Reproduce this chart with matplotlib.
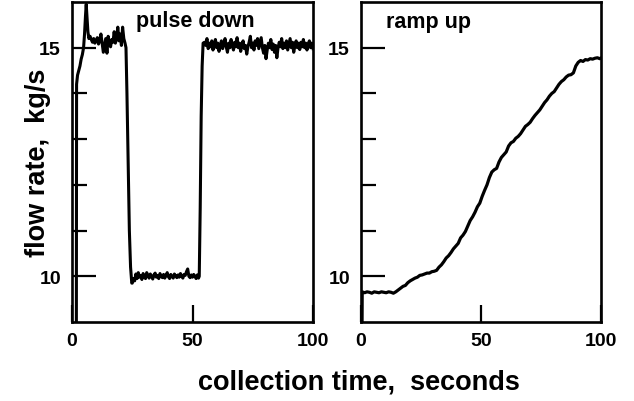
import matplotlib
matplotlib.use('Agg')
import matplotlib.pyplot as plt
import numpy as np
from matplotlib.ticker import FixedLocator

plt.rcParams['font.family'] = ['Liberation Sans', 'DejaVu Sans']
plt.rcParams['font.weight'] = 'bold'

# ---------------- data ----------------
# pulse down: start-up transient
pulse_start_t = [1.8, 1.9, 2.3, 2.8, 3.3, 3.8, 4.3, 4.8, 5.2, 5.6, 5.9, 6.2, 6.6, 7.0, 7.5]
pulse_start_v = [8.5, 14.2, 14.4, 14.5, 14.6, 14.75, 14.85, 15.0, 15.3, 15.7, 15.95, 15.7, 15.35, 15.2, 15.25]
# first high plateau, t = 8.0 .. 22.0 every 0.5 s
pulse_high1_v = [15.18, 15.12, 15.2, 15.1, 15.16, 15.22, 15.08, 15.15, 15.3, 15.1,
                 14.9, 15.05, 15.2, 14.88, 15.25, 15.1, 15.02, 15.18, 15.12, 15.35,
                 15.1, 15.2, 15.45, 15.15, 15.3, 15.05, 15.45, 15.2, 15.1]
# drop
pulse_drop_t = [22.4, 22.8, 23.3, 23.8, 24.3, 24.8]
pulse_drop_v = [15.0, 14.0, 12.5, 11.0, 10.2, 9.85]
# low plateau, t = 25.0 .. 52.5 every 0.5 s
pulse_low_v = [9.85, 9.95, 9.9, 10.05, 9.95, 10.08, 9.98, 10.02, 9.93, 10.06,
               10.0, 9.95, 10.08, 10.02, 9.96, 10.05, 10.0, 9.94, 10.03, 10.07,
               9.98, 10.02, 9.95, 10.06, 10.0, 9.97, 10.04, 9.96, 10.02, 10.08,
               9.99, 9.95, 10.04, 10.0, 9.96, 10.05, 10.01, 9.97, 10.03, 9.98,
               10.06, 10.0, 9.96, 10.04, 10.02, 10.1, 10.16, 10.0, 9.97, 10.03,
               9.98, 10.04, 10.0, 9.95, 10.03, 9.96]
# rise
pulse_rise_t = [52.8, 53.2, 53.6, 54.0, 54.4]
pulse_rise_v = [10.0, 11.5, 13.5, 14.6, 15.1]
# second high plateau, t = 55.0 .. 100.0 every 0.5 s
pulse_high2_v = [15.12, 15.05, 15.2, 14.98, 15.1, 15.02, 15.15, 14.95, 15.08, 15.18,
                 15.0, 15.1, 14.92, 15.05, 15.15, 14.98, 15.08, 15.2, 15.02, 14.9,
                 15.1, 15.0, 15.18, 15.05, 14.95, 15.12, 15.02, 15.22, 15.0, 15.1,
                 14.92, 15.08, 15.15, 14.98, 15.05, 14.86, 15.02, 15.12, 15.25, 15.0,
                 15.1, 14.95, 15.15, 15.05, 15.2, 14.98, 15.1, 15.22, 15.0, 14.88,
                 15.05, 14.76, 14.95, 15.1, 15.0, 15.18, 14.96, 15.08, 14.9, 15.05,
                 14.78, 15.0, 15.12, 15.02, 15.2, 14.98, 15.1, 15.0, 15.15, 14.95,
                 15.08, 15.2, 15.0, 15.12, 14.9, 15.05, 15.15, 15.0, 15.1, 14.96,
                 15.12, 15.02, 15.18, 15.0, 15.1, 14.95, 15.08, 15.15, 15.0, 15.1,
                 14.98]

# ramp up: start, then every 1 s from t = 0.5 .. 100.5 (clipped at 100)
ramp_start_t = [0.4]
ramp_start_v = [8.5]
ramp_v = [9.66, 9.64, 9.66, 9.65, 9.63, 9.66, 9.65, 9.64, 9.66, 9.65,
          9.64, 9.66, 9.65, 9.63, 9.66, 9.70, 9.74, 9.78, 9.80, 9.86,
          9.90, 9.93, 9.96, 9.98, 10.02, 10.03, 10.05, 10.07, 10.07, 10.10,
          10.11, 10.13, 10.20, 10.25, 10.32, 10.40, 10.45, 10.52, 10.60, 10.66,
          10.72, 10.84, 10.90, 10.98, 11.10, 11.22, 11.30, 11.40, 11.52, 11.60,
          11.75, 11.88, 12.00, 12.16, 12.28, 12.33, 12.36, 12.50, 12.60, 12.66,
          12.72, 12.85, 12.92, 12.95, 13.02, 13.06, 13.12, 13.20, 13.28, 13.32,
          13.37, 13.45, 13.52, 13.58, 13.64, 13.72, 13.80, 13.86, 13.94, 14.00,
          14.04, 14.12, 14.20, 14.26, 14.30, 14.36, 14.40, 14.41, 14.45, 14.60,
          14.68, 14.72, 14.70, 14.74, 14.73, 14.76, 14.75, 14.77, 14.78, 14.76,
          14.79]

x_ticks = [0, 50, 100]
y_major = [10, 15]
y_minor = [11, 12, 13, 14]
panel_titles = ['pulse down', 'ramp up']

# ---------------- assemble series ----------------
pulse_t = np.concatenate([pulse_start_t,
                          8.0 + 0.5 * np.arange(len(pulse_high1_v)),
                          pulse_drop_t,
                          25.0 + 0.5 * np.arange(len(pulse_low_v)),
                          pulse_rise_t,
                          55.0 + 0.5 * np.arange(len(pulse_high2_v))])
pulse_v = np.concatenate([pulse_start_v, pulse_high1_v, pulse_drop_v,
                          pulse_low_v, pulse_rise_v, pulse_high2_v])

ramp_t = np.concatenate([ramp_start_t, 0.5 + np.arange(len(ramp_v))])
ramp_vals = np.concatenate([ramp_start_v, ramp_v])

# ---------------- figure ----------------
fig = plt.figure(figsize=(6.34, 4.02), dpi=100)
ax1 = fig.add_axes([72/634, 79/402, 241/634, 320/402])
ax2 = fig.add_axes([361/634, 79/402, 240/634, 320/402])

ax1.plot(pulse_t, pulse_v, color='black', lw=2.2)
ax2.plot(ramp_t, ramp_vals, color='black', lw=2.3)

for ax, title, tx, ty in [(ax1, panel_titles[0], 51, 15.6), (ax2, panel_titles[1], 28, 15.58)]:
    ax.set_xlim(0, 100)
    ax.set_ylim(9, 16)
    ax.set_xticks(x_ticks)
    ax.set_yticks(y_major)
    ax.yaxis.set_minor_locator(FixedLocator(y_minor))
    ax.tick_params(axis='y', which='major', direction='in', length=17, width=1.6,
                   left=True, right=False, labelsize=14, pad=8)
    ax.tick_params(axis='y', which='minor', direction='in', length=11, width=1.6,
                   left=True, right=False)
    ax.tick_params(axis='x', which='major', direction='in', length=12, width=1.6,
                   bottom=True, top=False, labelsize=14, pad=7)
    for sp in ax.spines.values():
        sp.set_linewidth(1.9)
    for lab in ax.get_xticklabels() + ax.get_yticklabels():
        lab.set_fontweight('bold')
    ax.text(tx, ty, title, ha='center', va='center', fontsize=15.5, fontweight='bold')

fig.text(359/634, 1 - 383/402, 'collection time,  seconds', ha='center', va='center',
         fontsize=19.5, fontweight='bold')
fig.text(38/634, 1 - 163/402, 'flow rate,  kg/s', ha='center', va='center',
         rotation=90, fontsize=19.5, fontweight='bold')

fig.savefig('out.png', dpi=100, facecolor='white')
